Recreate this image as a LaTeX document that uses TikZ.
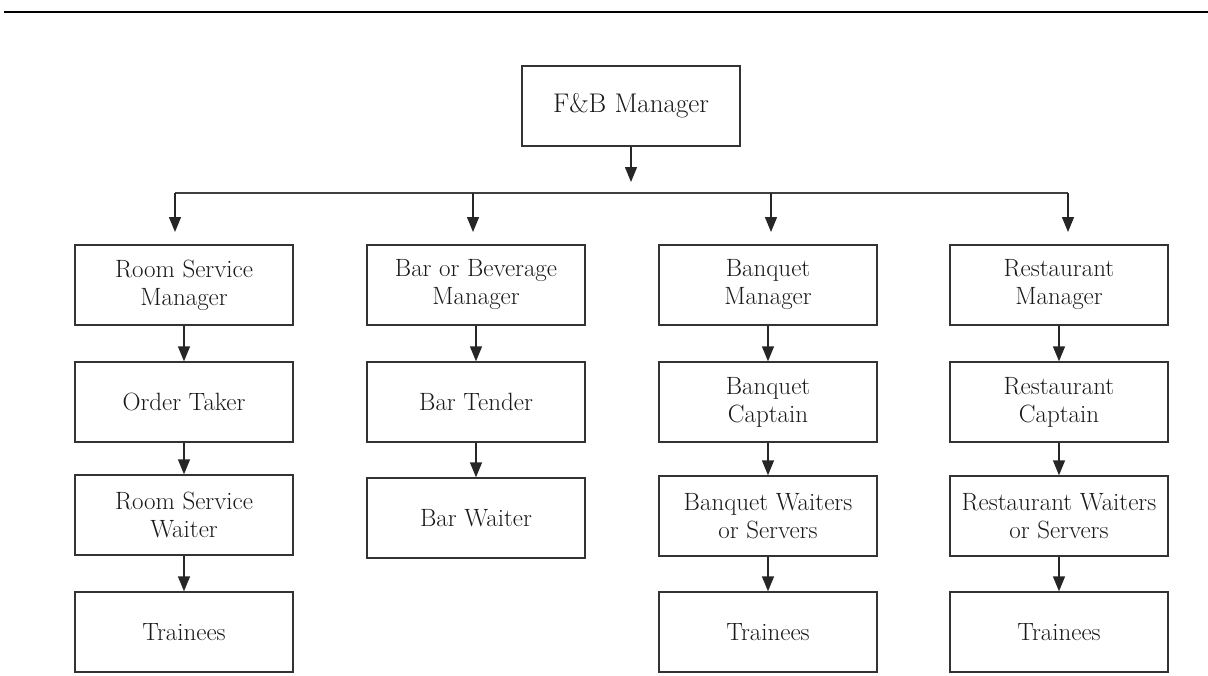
\documentclass[tikz,border=0pt]{standalone}
\usepackage{tikz}
\usetikzlibrary{positioning}
\usetikzlibrary{arrows.meta}

\tikzset{
 post/.style={draw=black!80,line width=1.4pt,minimum width=218pt,minimum height=80pt,
   align=center,inner sep=2pt,text=black!90,font=\fontsize{25}{28}\selectfont},
 down/.style={draw=black!85,line width=1.4pt,-{Triangle[length=15pt,width=12pt]}},
 bus/.style={draw=black!75,line width=1.4pt}
}

\begin{document}
\begin{tikzpicture}[x=1pt,y=-1pt]
 \useasboundingbox (0,0) rectangle (1208,675);
 \draw[line width=1.6pt](4,12)--(1208,12);

 \node[post,font=\fontsize{27}{30}\selectfont] (fb) at (631,106) {F\&B Manager};
 \coordinate (fbend) at (631,182);
 \draw[down] (fb) -- (fbend);

 % the four departments
 \node[post] (rsm) at (184,285) {Room Service\\Manager};
 \node[post] (bbm) at (476,285) {Bar or Beverage\\Manager};
 \node[post] (bqm) at (768,285) {Banquet\\Manager};
 \node[post] (rtm) at (1059,285) {Restaurant\\Manager};

 \coordinate (b1) at (175,193);
 \coordinate (b2) at (473,193);
 \coordinate (b3) at (771,193);
 \coordinate (b4) at (1068,193);
 \draw[bus] (b1) -- (b4);
 \foreach \b in {1,2,3,4}
   \draw[down] (b\b) -- ++(0,39);

 % room service
 \node[post] (ot) at (184,402) {Order Taker};
 \node[post] (rsw) at (184,515) {Room Service\\Waiter};
 \node[post] (tr1) at (184,632) {Trainees};
 \draw[down] (rsm) -- (ot);
 \draw[down] (ot) -- (rsw);
 \draw[down] (rsw) -- (tr1);

 % bar
 \node[post] (bt) at (476,402) {Bar Tender};
 \node[post] (bw) at (476,518) {Bar Waiter};
 \draw[down] (bbm) -- (bt);
 \draw[down] (bt) -- (bw);

 % banquet
 \node[post] (bqc) at (768,402) {Banquet\\Captain};
 \node[post] (bqw) at (768,516) {Banquet Waiters\\or Servers};
 \node[post] (tr3) at (768,632) {Trainees};
 \draw[down] (bqm) -- (bqc);
 \draw[down] (bqc) -- (bqw);
 \draw[down] (bqw) -- (tr3);

 % restaurant
 \node[post] (rtc) at (1059,402) {Restaurant\\Captain};
 \node[post] (rtw) at (1059,516) {Restaurant Waiters\\or Servers};
 \node[post] (tr4) at (1059,632) {Trainees};
 \draw[down] (rtm) -- (rtc);
 \draw[down] (rtc) -- (rtw);
 \draw[down] (rtw) -- (tr4);
\end{tikzpicture}
\end{document}
